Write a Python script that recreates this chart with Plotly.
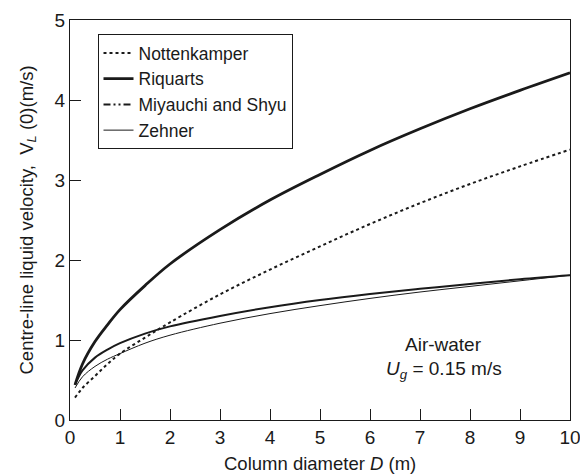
import plotly.graph_objects as go

D = [0.1, 0.25, 0.5, 0.75, 1, 1.5, 2, 3, 4, 5, 6, 7, 8, 9, 10]
nottenkamper = [0.28, 0.40, 0.55, 0.70, 0.83, 1.03, 1.22, 1.57, 1.88, 2.17, 2.45, 2.71, 2.95, 3.17, 3.38]
riquarts = [0.44, 0.70, 0.98, 1.19, 1.38, 1.68, 1.95, 2.38, 2.75, 3.07, 3.37, 3.64, 3.89, 4.12, 4.34]
miyauchi = [0.44, 0.62, 0.78, 0.88, 0.96, 1.08, 1.17, 1.30, 1.41, 1.50, 1.575, 1.64, 1.70, 1.76, 1.81]
zehner = [0.40, 0.54, 0.67, 0.76, 0.83, 0.96, 1.06, 1.21, 1.33, 1.43, 1.52, 1.60, 1.67, 1.74, 1.81]

x_ticks = list(range(0, 11))
y_ticks = list(range(0, 6))

INK = "#1a1a1a"
FONT = "Liberation Sans, Arial, sans-serif"

fig = go.Figure()
fig.add_trace(go.Scatter(x=D, y=nottenkamper, mode="lines", name="Nottenkamper",
                         line=dict(color=INK, width=2, dash="dot", shape="spline")))
fig.add_trace(go.Scatter(x=D, y=riquarts, mode="lines", name="Riquarts",
                         line=dict(color=INK, width=2.8, shape="spline")))
fig.add_trace(go.Scatter(x=D, y=miyauchi, mode="lines", name="Miyauchi and Shyu",
                         showlegend=False,
                         line=dict(color=INK, width=2, shape="spline")))
fig.add_trace(go.Scatter(x=[None], y=[None], mode="lines", name="Miyauchi and Shyu",
                         line=dict(color=INK, width=2, dash="7px,3px,2px,3px,2px,3px")))
fig.add_trace(go.Scatter(x=D, y=zehner, mode="lines", name="Zehner",
                         line=dict(color=INK, width=1, shape="spline")))

fig.add_annotation(x=7.47, y=0.95, text="Air-water", showarrow=False,
                   font=dict(size=19, color=INK, family=FONT))
fig.add_annotation(x=7.47, y=0.63, text="<i>U<sub>g</sub></i> = 0.15 m/s", showarrow=False,
                   font=dict(size=19, color=INK, family=FONT))

# axis titles
fig.add_annotation(xref="paper", yref="paper", x=0.5, y=-0.108, xanchor="center", yanchor="middle",
                   text="Column diameter <i>D</i> (m)", showarrow=False,
                   font=dict(size=18.5, color=INK, family=FONT))
fig.add_annotation(xref="paper", yref="paper", x=-0.085, y=0.5, xanchor="center", yanchor="middle",
                   textangle=-90,
                   text="Centre-line liquid velocity,  V<sub><i>L</i></sub> (0)(m/s)", showarrow=False,
                   font=dict(size=18.5, color=INK, family=FONT))

axis_common = dict(showgrid=False, zeroline=False, showline=True, mirror=True,
                   linecolor=INK, linewidth=1, ticks="inside", ticklen=11,
                   tickcolor=INK, tickwidth=1, automargin=False,
                   ticklabeloverflow="allow",
                   tickfont=dict(size=19, color=INK, family=FONT))

fig.update_xaxes(range=[0, 10], tickvals=x_ticks, **axis_common)
fig.update_yaxes(range=[0, 5], tickvals=y_ticks, **axis_common)

fig.update_layout(
    width=580, height=475,
    margin=dict(l=70, r=10, t=20, b=55),
    paper_bgcolor="white", plot_bgcolor="white",
    font=dict(family=FONT, color=INK),
    legend=dict(x=0.055, y=0.965, xanchor="left", yanchor="top",
                bgcolor="white", bordercolor=INK, borderwidth=1,
                font=dict(size=17.5, color=INK, family=FONT),
                traceorder="normal", itemwidth=30),
)

fig.write_html("out.html", config={"displayModeBar": False},
               post_script="document.body.style.margin='0px';document.body.style.overflow='hidden';")
